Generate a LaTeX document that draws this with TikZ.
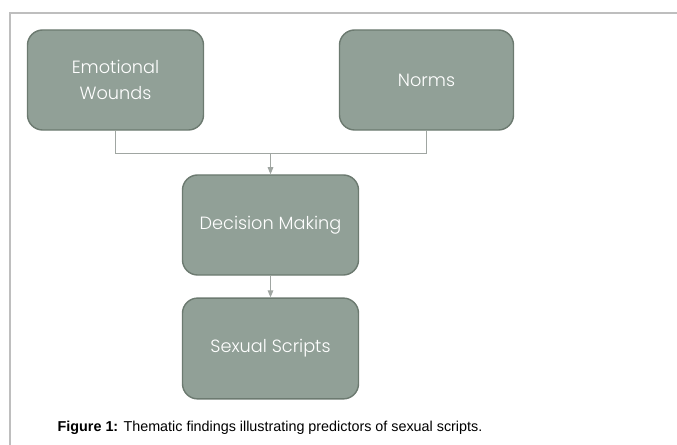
\documentclass[tikz,border=0pt]{standalone}
\usepackage{fontspec}
\setmainfont{Liberation Sans}
\newfontfamily\boxfont{Poppins}[UprightFont=*-Light]
\usepackage{tikz}
\usetikzlibrary{arrows.meta, positioning, calc}

\definecolor{sage}{RGB}{145,160,151}
\definecolor{sageline}{RGB}{108,122,112}
\definecolor{linkgray}{RGB}{160,166,162}
\definecolor{framegray}{RGB}{190,190,190}

\begin{document}
\begin{tikzpicture}[x=0.025cm, y=0.025cm,
    box/.style={draw=sageline, line width=1pt, fill=sage, rounded corners=0.38cm,
        minimum width=4.4cm, minimum height=2.5cm, align=center,
        font=\boxfont\fontsize{12.6}{18}\selectfont, text=white},
    lnk/.style={draw=linkgray, line width=0.7pt},
    captext/.style={font=\fontsize{10.2}{12}\selectfont}
]
    \useasboundingbox (0,0) rectangle (677,445);
    % frame of the page
    \draw[framegray, line width=0.8pt] (677,432) -- (10,432) -- (10,0);

    \node[box] (wounds) at (115.5,365) {Emotional\\Wounds};
    \node[box, minimum width=4.35cm] (norms) at (426.5,365) {Norms};
    \node[box] (decide) at (270.5,220) {Decision Making};
    \node[box, minimum height=2.52cm] (scripts) at (270.5,96.5) {Sexual Scripts};
    \node[captext] (caption) at (270,17) {\textbf{Figure 1:} Thematic findings illustrating predictors of sexual scripts.};

    \coordinate (join) at ($(decide.north)+(0,21)$);
    \draw[lnk] (wounds.south) |- (join) -| (norms.south);
    \draw[lnk, -{Triangle[length=5pt,width=4pt]}] (join) -- (decide.north);
    \draw[lnk, -{Triangle[length=5pt,width=4pt]}] (decide.south) -- (scripts.north);
\end{tikzpicture}
\end{document}
